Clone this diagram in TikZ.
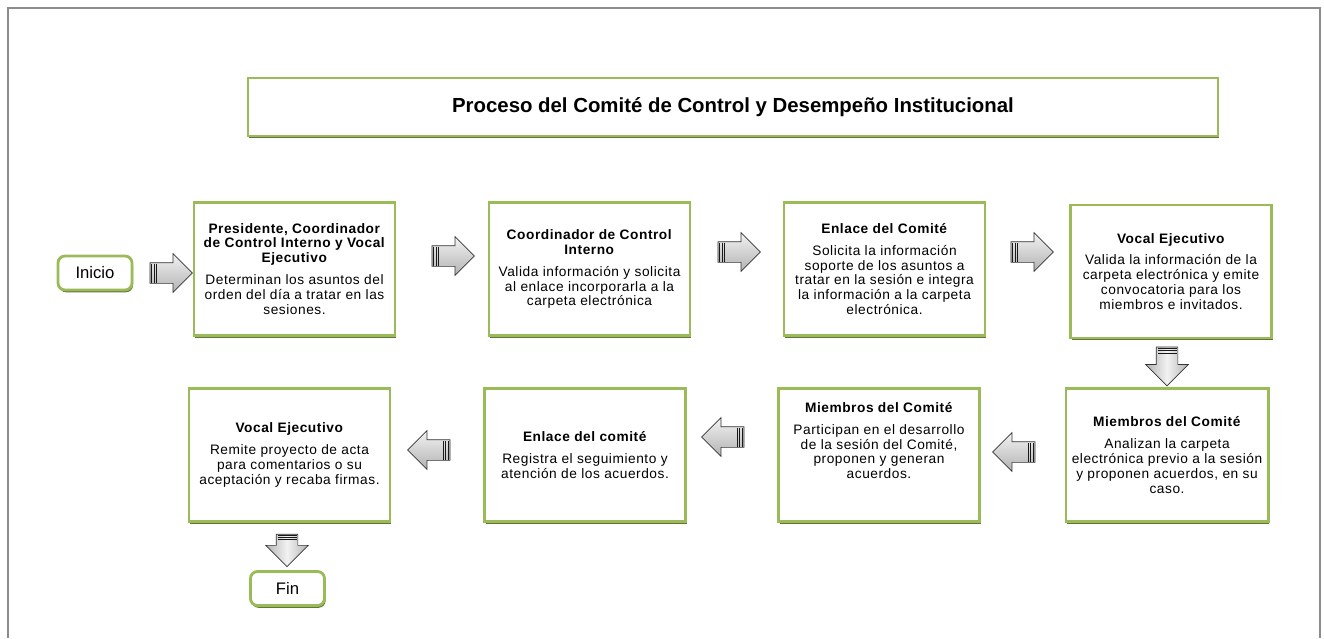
\documentclass[tikz,border=0pt]{standalone}
\usepackage{fontspec}
\setmainfont{Liberation Sans}
\newfontfamily\boxfont{Liberation Sans}[LetterSpace=4]
\usetikzlibrary{shapes.arrows,shadows,calc}
\definecolor{boxgreen}{RGB}{155,187,89}
\definecolor{boxshade}{RGB}{98,118,58}
\definecolor{framegray}{RGB}{140,140,140}

\begin{document}
\begin{tikzpicture}
\tikzstyle{paso}=[draw=boxgreen,line width=1.6pt,fill=white,minimum width=4.02cm,minimum height=2.66cm,align=center,font=\boxfont\fontsize{7.8}{8.5}\selectfont,drop shadow={shadow xshift=0.6pt,shadow yshift=-1.3pt,fill=boxshade,opacity=1}]
\tikzstyle{term}=[paso,rounded corners=4pt,minimum width=1.48cm,minimum height=0.68cm,font=\fontsize{9.5}{11}\selectfont]
\tikzstyle{flecha}=[single arrow,draw=gray!40!black,top color=gray!10,bottom color=gray!60,minimum height=0.85cm,minimum width=0.76cm,single arrow head extend=0.18cm,inner sep=0.2cm,line width=0.4pt]
\tikzstyle{abajo}=[flecha,shape border rotate=270,left color=gray!60,right color=gray!60,middle color=gray!10,minimum width=0.84cm,single arrow head extend=0.21cm,inner sep=0.21cm]
\useasboundingbox (0,0) rectangle (26.48,-12.76);
\draw[framegray,line width=0.8pt] (0.16,-12.76) -- (0.16,-0.16) -- (26.4,-0.16) -- (26.4,-12.76);

% titulo
\node[paso,minimum width=19.4cm,minimum height=1.16cm,font=\bfseries\fontsize{11.6}{13}\selectfont] (titulo) at (14.66,-2.14) {Proceso del Comité de Control y Desempeño Institucional};

% inicio y fin
\node[term] (inicio) at (1.9,-5.46) {Inicio};
\node[term] (fin) at (5.75,-11.77) {Fin};

% primera fila
\node[paso] (b1) at (5.89,-5.38) {\textbf{Presidente, Coordinador}\\\textbf{de Control Interno y Vocal}\\\textbf{Ejecutivo}\\[4pt]Determinan los asuntos del\\orden del día a tratar en las\\sesiones.};
\node[paso] (b2) at (11.79,-5.38) {\textbf{Coordinador de Control}\\\textbf{Interno}\\[4pt]Valida información y solicita\\al enlace incorporarla a la\\carpeta electrónica};
\node[paso] (b3) at (17.69,-5.38) {\textbf{Enlace del Comité}\\[4pt]Solicita la información\\soporte de los asuntos a\\tratar en la sesión e integra\\la información a la carpeta\\electrónica.};
\node[paso] (b4) at (23.42,-5.43) {\textbf{Vocal Ejecutivo}\\[4pt]Valida la información de la\\carpeta electrónica y emite\\convocatoria para los\\miembros e invitados.};

% segunda fila
\node[paso] (b5) at (23.34,-9.1) {\textbf{Miembros del Comité}\\[4pt]Analizan la carpeta\\electrónica previo a la sesión\\y proponen acuerdos, en su\\caso.};
\node[paso] (b6) at (17.58,-9.1) {\textbf{Miembros del Comité}\\[4pt]Participan en el desarrollo\\de la sesión del Comité,\\proponen y generan\\acuerdos.\\[8pt]};
\node[paso] (b7) at (11.7,-9.1) {\textbf{Enlace del comité}\\[4pt]Registra el seguimiento y\\atención de los acuerdos.};
\node[paso] (b8) at (5.79,-9.1) {\textbf{Vocal Ejecutivo}\\[4pt]Remite proyecto de acta\\para comentarios o su\\aceptación y recaba firmas.};

% flechas
\node[flecha] (a0) at (3.32,-5.46) {};
\node[flecha] (a1) at (8.96,-5.12) {};
\node[flecha] (a2) at (14.68,-5.04) {};
\node[flecha] (a3) at (20.54,-5.04) {};
\node[abajo,minimum height=0.78cm] (a4) at (23.34,-7.22) {};
\node[flecha,shape border rotate=180] (a5) at (20.38,-9.04) {};
\node[flecha,shape border rotate=180] (a6) at (14.56,-8.74) {};
\node[flecha,shape border rotate=180] (a7) at (8.68,-9.0) {};
\node[abajo,minimum height=0.56cm] (a8) at (5.74,-10.9) {};
\foreach \i in {0,...,8}
  \foreach \t in {0.05,0.11,0.17}
    \draw[gray!20!black,line width=0.6pt] ($(a\i.tail)!\t!(a\i.tip)!0.19cm!90:(a\i.tip)$) -- ($(a\i.tail)!\t!(a\i.tip)!0.19cm!-90:(a\i.tip)$);
\end{tikzpicture}
\end{document}
